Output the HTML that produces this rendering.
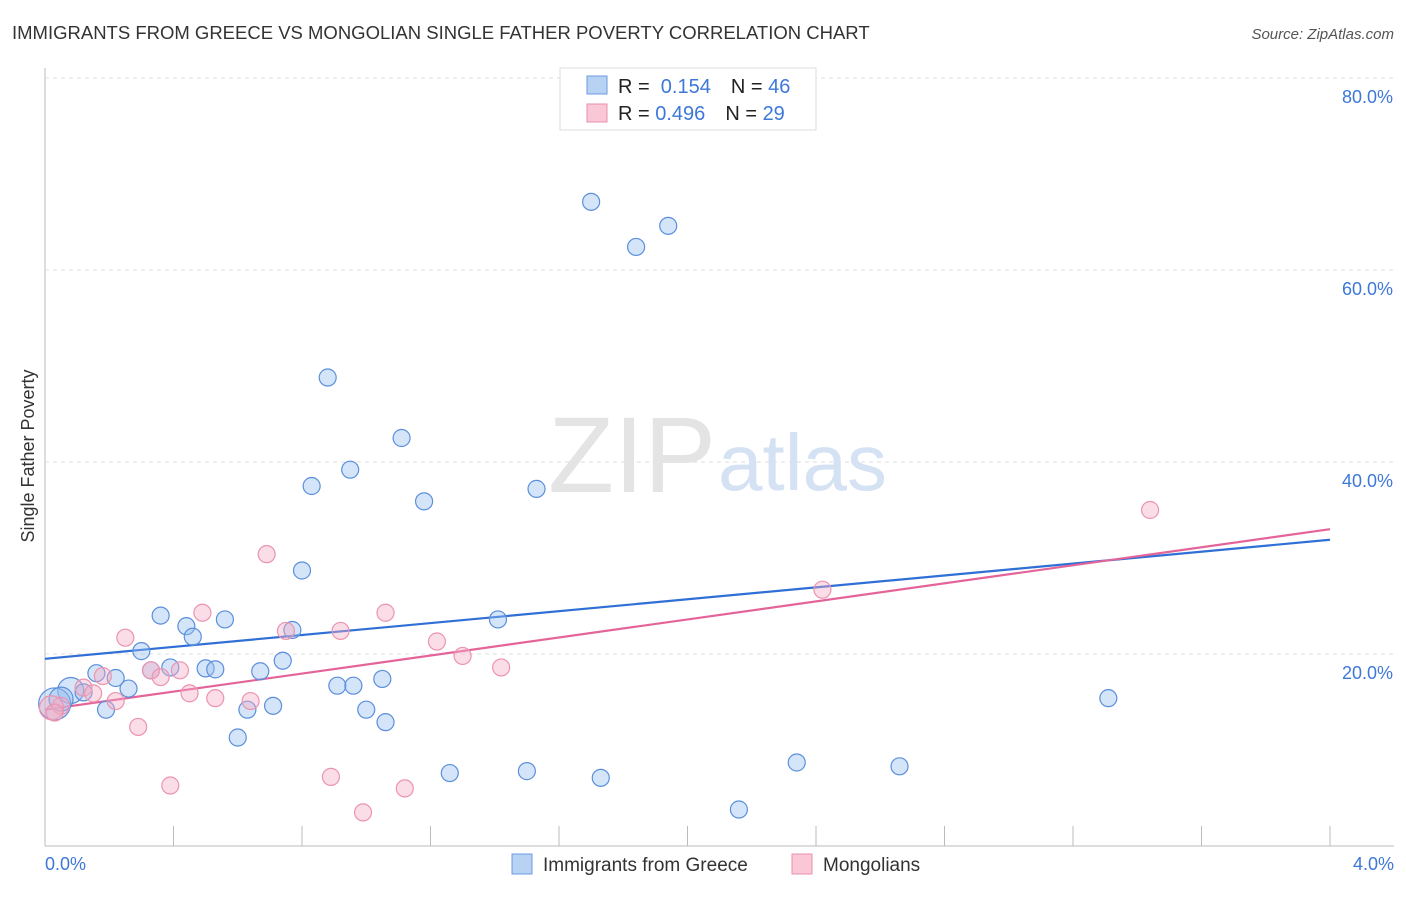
<!DOCTYPE html>
<html><head><meta charset="utf-8"><style>
body{margin:0;background:#fff;font-family:"Liberation Sans",sans-serif;}
svg text{font-family:"Liberation Sans",sans-serif;}
</style></head><body>
<svg id="chart" width="1406" height="892">
<text x="12" y="39" font-size="18.5" fill="#333">IMMIGRANTS FROM GREECE VS MONGOLIAN SINGLE FATHER POVERTY CORRELATION CHART</text>
<text x="1394" y="39" font-size="15" fill="#555" font-style="italic" text-anchor="end">Source: ZipAtlas.com</text>
<text x="34" y="456" font-size="18" fill="#333" transform="rotate(-90 34 456)" text-anchor="middle">Single Father Poverty</text>
<g id="grid"></g>
<text x="716" y="492" font-size="108" fill="#e4e4e4" text-anchor="end" font-family="Liberation Serif">ZIP</text>
<text x="718" y="490" font-size="80" fill="#d4e2f4">atlas</text>
<g id="lines"></g>
<g id="points"></g>
<g>
<rect x="560" y="68" width="256" height="62" fill="#fff" stroke="#ddd"/>
<rect x="587" y="76" width="20" height="18" fill="#b8d2f4" stroke="#6a9be0"/>
<rect x="587" y="104" width="20" height="18" fill="#f9c7d6" stroke="#ea8fab"/>
<text x="618" y="93" font-size="20" fill="#222">R = <tspan fill="#3d78d8">&#160;0.154</tspan><tspan dx="20">N = </tspan><tspan fill="#3d78d8">46</tspan></text>
<text x="618" y="120" font-size="20" fill="#222">R = <tspan fill="#3d78d8">0.496</tspan><tspan dx="20">N = </tspan><tspan fill="#3d78d8">29</tspan></text>
</g>
<g>
<rect x="512" y="854" width="20" height="20" fill="#b8d2f4" stroke="#6a9be0"/>
<text x="543" y="871" font-size="19" fill="#333">Immigrants from Greece</text>
<rect x="792" y="854" width="20" height="20" fill="#f9c7d6" stroke="#ea8fab"/>
<text x="823" y="871" font-size="19" fill="#333">Mongolians</text>
</g>
</svg>
<script>
const xTicks=[0,0.4,0.8,1.2,1.6,2.0,2.4,2.8,3.2,3.6,4.0];
const yTicks=[20,40,60,80];
const yTickLabels=["20.0%","40.0%","60.0%","80.0%"];
const xEndLabels=["0.0%","4.0%"];
const greeceX=[1.70,1.84,1.94,0.88,1.11,0.95,0.83,1.18,1.53,0.80,0.36,0.44,0.46,0.56,0.77,0.30,0.16,0.22,0.26,0.19,0.08,0.12,0.03,0.05,0.39,0.50,0.53,0.67,0.74,0.91,0.96,1.05,0.63,0.71,1.00,1.06,0.60,1.26,1.50,1.73,2.16,2.34,2.66,3.31,1.41,0.33];
const greeceY=[67.1,62.4,64.6,48.8,42.5,39.2,37.5,35.9,37.2,28.7,24.0,22.9,21.8,23.6,22.5,20.3,18.0,17.5,16.4,14.2,16.2,16.0,14.8,15.3,18.6,18.5,18.4,18.2,19.3,16.7,16.7,17.4,14.2,14.6,14.2,12.9,11.3,7.6,7.8,7.1,3.8,8.7,8.3,15.4,23.6,18.3];
const mongX=[3.44,2.42,0.69,0.49,1.06,0.75,0.92,0.25,1.22,1.30,1.42,0.33,0.42,0.36,0.18,0.12,0.15,0.45,0.53,0.64,0.22,0.05,0.02,0.29,0.39,0.89,0.99,1.12,0.03];
const mongY=[35.0,26.7,30.4,24.3,24.3,22.4,22.4,21.7,21.3,19.8,18.6,18.3,18.3,17.6,17.7,16.5,15.9,15.9,15.4,15.1,15.1,14.6,14.4,12.4,6.3,7.2,3.5,6.0,13.9];
const greeceBig=[0,0,0,0,0,0,0,0,0,0,0,0,0,0,0,0,0,0,0,0,13,0,16,12];
const trendIntercept=[19.5,14.2];
const trendSlope=[3.1,4.7];
const X=v=>45+v*321.25, Y=v=>846-v*9.6;
const NS="http://www.w3.org/2000/svg";
const g=document.getElementById('grid');
function mk(t,a,p){const e=document.createElementNS(NS,t);for(const k in a)e.setAttribute(k,a[k]);p.appendChild(e);return e;}
const ax=mk('line',{x1:45,y1:68,x2:45,y2:846,stroke:'#bbb'},g);


const bx=mk('line',{x1:45,y1:846,x2:1394,y2:846,stroke:'#bbb'},g);


yTicks.forEach((v,i)=>{
 const l=mk('line',{x1:45,y1:Y(v),x2:1394,y2:Y(v),stroke:'#ddd','stroke-dasharray':'4,4'},g);
 
 
 const t=mk('text',{x:1393,y:Y(v)+25,'font-size':18,fill:'#3d78d8','text-anchor':'end'},g);t.textContent=yTickLabels[i];
 
 
});
xTicks.forEach(v=>{if(v===0)return;
 const l=mk('line',{x1:X(v),y1:826,x2:X(v),y2:846,stroke:'#bbb'},g);
 
 
});
[[0,'start',45],[1,'end',1394]].forEach(([i,a,x])=>{
 const t=mk('text',{x:x,y:870,'font-size':18,fill:'#3d78d8','text-anchor':a},g);t.textContent=xEndLabels[i];
 
 
});
const P=document.getElementById('points');
greeceX.forEach((x,i)=>{
 const c=mk('circle',{cx:X(x),cy:Y(greeceY[i]),r:greeceBig[i]||8.5,fill:'rgba(150,190,240,0.4)',stroke:'#5b8fdc','stroke-width':1.2},P);
 
 
});
mongX.forEach((x,i)=>{
 const c=mk('circle',{cx:X(x),cy:Y(mongY[i]),r:i===22?12:8.5,fill:'rgba(245,170,195,0.4)',stroke:'#eb94b0','stroke-width':1.2},P);
 
 
});
const L=document.getElementById('lines');
const colors=['#2f6fd6','#e4649a'];
const names=['greece-trend-line','mongolian-trend-line'];
[0,1].forEach(s=>{
 const l=mk('line',{x1:X(0),y1:Y(trendIntercept[s]),x2:X(4),y2:Y(trendIntercept[s]+trendSlope[s]*4),stroke:colors[s],'stroke-width':2.2},L);
 
 
});
</script>
</body></html>
